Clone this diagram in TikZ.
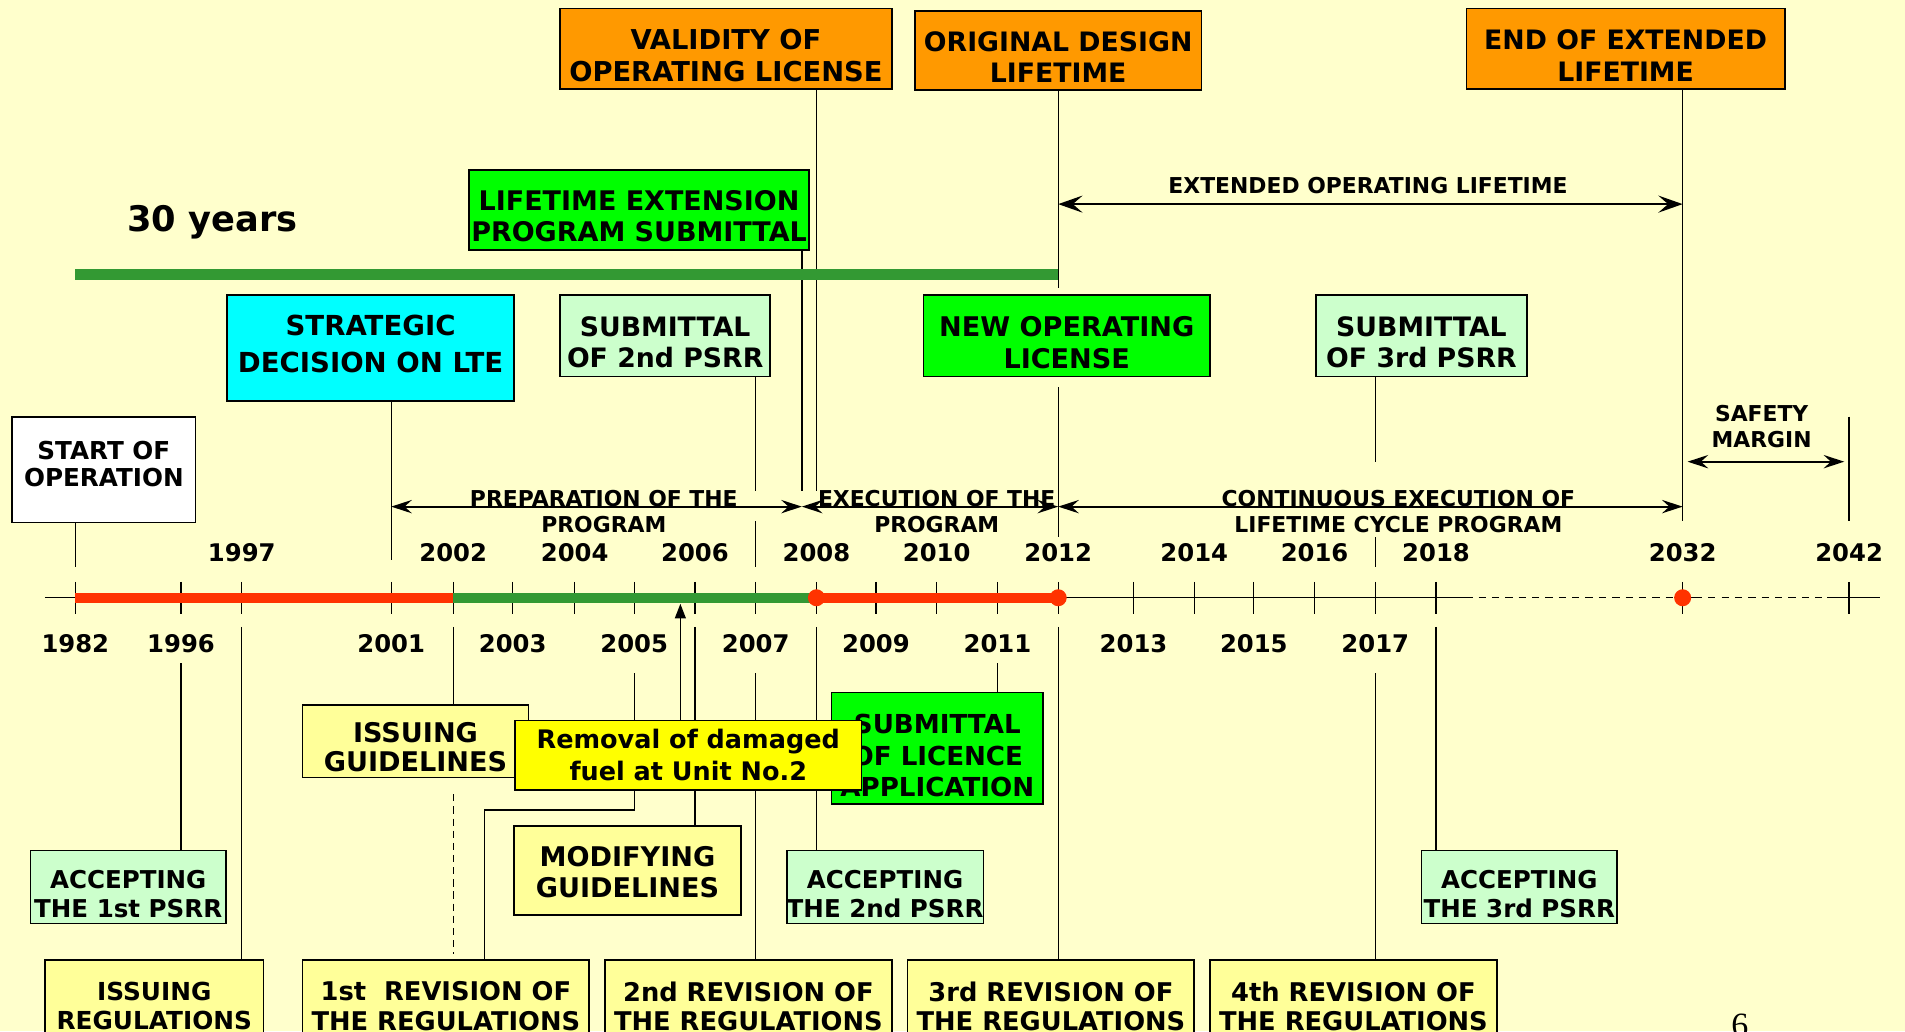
\documentclass[tikz,border=0pt]{standalone}
\usepackage{fontspec}
\usetikzlibrary{arrows.meta, backgrounds}
\newfontfamily\vfont{DejaVu Sans}
\newfontfamily\pgfont{Liberation Serif}
\newcommand{\tlfont}[2]{\vfont\fontsize{#1}{#2}\selectfont\bfseries}

\definecolor{bgyellow}{HTML}{FFFFCC}
\definecolor{boxorange}{HTML}{FF9900}
\definecolor{boxgreen}{HTML}{00FF00}
\definecolor{boxcyan}{HTML}{00FFFF}
\definecolor{palegreen}{HTML}{CCFFCC}
\definecolor{paleyellow}{HTML}{FFFF99}
\definecolor{boxyellow}{HTML}{FFFF00}
\definecolor{barred}{HTML}{FF3300}
\definecolor{bargreen}{HTML}{339933}

\begin{document}
\begin{tikzpicture}[x=1pt, y=-1pt,
    box/.style={draw=black, line width=1.4pt, align=center, inner sep=0pt, font=\tlfont{22.5}{26}},
    tdown/.style={execute at begin node={\rule{0pt}{#1}}},
    tup/.style={execute at end node={\rule[-#1]{0pt}{0pt}}},
    conn/.style={line width=1.1pt},
    span/.style={line width=1.5pt, <->, >={Stealth[length=17pt,width=11pt,inset=6pt]}},
    lbl/.style={align=center, inner sep=0pt, font=\tlfont{18}{21}},
    yr/.style={inner sep=0pt, font=\tlfont{20}{24}},
    tick/.style={line width=1.1pt},
    dot/.style={circle, fill=barred, inner sep=0pt, minimum size=14pt}]
    \useasboundingbox (0,0) rectangle (1568,849);
    \clip (0,0) rectangle (1568,849);

    % Years on the axis
    \foreach \yr/\xx in {1982/62,1996/149,1997/199,2001/322,2002/373,2003/422,2004/473,2005/522,2006/572,2007/622,2008/672,2009/721,2010/771,2011/821,2012/871,2013/933,2014/983,2015/1032,2016/1082,2017/1132,2018/1182,2032/1385,2042/1522}
        \coordinate (t\yr) at (\xx,492);

    % Rows used by the connectors
    \coordinate (hExt) at (0,168);
    \coordinate (h30) at (0,226);
    \coordinate (hSafeTop) at (0,343);
    \coordinate (hSafe) at (0,380);
    \coordinate (hTop) at (0,404);
    \coordinate (hArr) at (0,417);
    \coordinate (hMid) at (0,429);
    \coordinate (hLab) at (0,442);
    \coordinate (hYr) at (0,461);
    \coordinate (hTick) at (0,467);
    \coordinate (hLo1) at (0,516);
    \coordinate (hLo2) at (0,546);
    \coordinate (hLo3) at (0,554);
    \coordinate (junc) at (660,417);
    \coordinate (fuel) at (560,497);
    \coordinate (axL) at (37,492);
    \coordinate (axR) at (1547,492);

    % Boxes above the axis
    \node[box, fill=boxorange, minimum width=273pt, minimum height=66pt, tdown=54.4pt] (validity) at (597.5,40) {VALIDITY OF\\OPERATING LICENSE};
    \node[box, fill=boxorange, minimum width=236pt, minimum height=65pt, tdown=53pt, font=\tlfont{22}{26}] (origlife) at (871,41.5) {ORIGINAL DESIGN\\LIFETIME};
    \node[box, fill=boxorange, minimum width=262pt, minimum height=66pt, tdown=54pt, font=\tlfont{22}{26}] (endlife) at (1338,40) {END OF EXTENDED\\LIFETIME};
    \node[box, fill=boxgreen, minimum width=280pt, minimum height=66pt, tdown=52.2pt, font=\tlfont{22.2}{26}] (lteprog) at (526,173) {LIFETIME EXTENSION\\PROGRAM SUBMITTAL};
    \node[inner sep=0pt, font=\tlfont{29}{34}] (thirty) at (175,183) {30 years};
    \node[box, fill=boxcyan, minimum width=236pt, minimum height=87pt, font=\tlfont{22.7}{31}, tup=7pt] (strategic) at (305,286.5) {STRATEGIC\\DECISION ON LTE};
    \node[box, fill=palegreen, minimum width=173pt, minimum height=67pt, tdown=53pt, font=\tlfont{22}{26}] (sub2) at (547.5,276.5) {SUBMITTAL\\OF 2nd PSRR};
    \node[box, fill=boxgreen, minimum width=236pt, minimum height=67pt, tdown=53.3pt, font=\tlfont{22.3}{26}] (newlic) at (878,276.5) {NEW OPERATING\\LICENSE};
    \node[box, fill=palegreen, minimum width=174pt, minimum height=67pt, tdown=53pt, font=\tlfont{22}{26}] (sub3) at (1170,276.5) {SUBMITTAL\\OF 3rd PSRR};
    \node[box, fill=white, minimum width=151pt, minimum height=87pt, font=\tlfont{20.3}{22.5}, tup=9pt] (start) at (85.5,386.5) {START OF\\OPERATION};

    % Boxes below the axis
    \node[box, fill=paleyellow, minimum width=186pt, minimum height=60pt, font=\tlfont{22.3}{24}, tdown=50.3pt] (issguide) at (342,610) {ISSUING\\GUIDELINES};
    \node[box, fill=boxgreen, minimum width=174pt, minimum height=92pt, font=\tlfont{21.5}{26}, tdown=79.7pt] (licapp) at (771.5,616) {SUBMITTAL\\OF LICENCE\\APPLICATION};
    \node[box, fill=boxyellow, minimum width=285pt, minimum height=57pt, font=\tlfont{21}{26}] (removal) at (566.5,621.5) {Removal of damaged\\fuel at Unit No.2};
    \node[box, fill=paleyellow, minimum width=187pt, minimum height=73pt, font=\tlfont{22.3}{26}, tdown=45.3pt] (modguide) at (516.5,716.5) {MODIFYING\\GUIDELINES};
    \node[box, fill=palegreen, minimum width=161pt, minimum height=60pt, font=\tlfont{20.2}{24}, tdown=50.7pt] (acc1) at (105.5,730) {ACCEPTING\\THE 1st PSRR};
    \node[box, fill=palegreen, minimum width=161pt, minimum height=60pt, font=\tlfont{20.2}{24}, tdown=50.7pt] (acc2) at (728.5,730) {ACCEPTING\\THE 2nd PSRR};
    \node[box, fill=palegreen, minimum width=161pt, minimum height=60pt, font=\tlfont{20.2}{24}, tdown=50.7pt] (acc3) at (1250.5,730) {ACCEPTING\\THE 3rd PSRR};
    \node[box, fill=paleyellow, minimum width=180pt, minimum height=80pt, font=\tlfont{20.4}{24}, tup=4pt] (issreg) at (127,830) {ISSUING\\REGULATIONS};
    \node[box, fill=paleyellow, minimum width=236pt, minimum height=80pt, font=\tlfont{21.2}{24}, tup=4pt] (rev1) at (367,830) {1st~~REVISION OF\\THE REGULATIONS};
    \node[box, fill=paleyellow, minimum width=236pt, minimum height=80pt, font=\tlfont{21.2}{24}, tup=4pt] (rev2) at (616,830) {2nd REVISION OF\\THE REGULATIONS};
    \node[box, fill=paleyellow, minimum width=236pt, minimum height=80pt, font=\tlfont{21.2}{24}, tup=4pt] (rev3) at (865,830) {3rd REVISION OF\\THE REGULATIONS};
    \node[box, fill=paleyellow, minimum width=236pt, minimum height=80pt, font=\tlfont{21.2}{24}, tup=4pt] (rev4) at (1114,830) {4th REVISION OF\\THE REGULATIONS};
    \node[anchor=base, inner sep=0pt, font=\pgfont\fontsize{28}{30}\selectfont] (pgno) at (1432,853) {6};

    \begin{scope}[on background layer]
        \fill[bgyellow] (0,0) rectangle (1568,849);

        % Connectors above the axis
        \draw[conn] (validity.south -| t2008) -- (t2008 |- hTop);
        \draw[conn] (lteprog.south -| junc) -- (junc |- hTop);
        \draw[conn] (origlife.south) -- ++(0,162);
        \draw[conn] (endlife.south -| t2032) -- (t2032 |- hMid);
        \draw[conn] (t2042 |- hSafeTop) -- (t2042 |- hMid);
        \draw[conn, shorten <=8pt] (newlic.south -| t2012) -- (t2012 |- hLab);
        \draw[conn] (strategic.south -| t2001) -- (t2001 |- hYr);
        \draw[conn] (sub2.south -| t2007) -- (t2007 |- hTop);
        \draw[conn] (t2007 |- hMid) -- (t2007 |- hTick);
        \draw[conn] (sub3.south -| t2017) -- (t2017 |- hSafe);
        \draw[conn] (t2017 |- hLab) -- (t2017 |- hTick);
        \draw[conn] (start.south -| t1982) -- (t1982 |- hTick);

        % Connectors below the axis
        \draw[conn] (t1996 |- hLo2) -- (acc1.north -| t1996);
        \draw[conn] (t1997 |- hLo1) -- (issreg.north -| t1997);
        \draw[conn] (t2002 |- hLo1) -- (issguide.north -| t2002);
        \draw[conn, dash pattern=on 6pt off 4pt, shorten <=13pt, shorten >=4pt] (issguide.south -| t2002) -- (rev1.north -| t2002);
        \draw[conn] (t2005 |- hLo3) -- (removal.north -| t2005);
        \draw[conn] (removal.south -| t2005) -- ++(0,16) -| ([xshift=32pt]rev1.north);
        \draw[conn] (t2006 |- hLo1) -- (modguide.north -| t2006);
        \draw[conn] (t2007 |- hLo3) -- (rev2.north -| t2007);
        \draw[conn] (t2008 |- hLo1) -- (acc2.north -| t2008);
        \draw[conn] (t2011 |- hLo2) -- (licapp.north -| t2011);
        \draw[conn] (t2012 |- hLo1) -- (rev3.north -| t2012);
        \draw[conn] (t2017 |- hLo3) -- (rev4.north -| t2017);
        \draw[conn] (t2018 |- hLo1) -- (acc3.north -| t2018);
    \end{scope}

    % 30 years
    \draw[line width=9pt, bargreen] (t1982 |- h30) -- (t2012 |- h30);

    % Axis
    \draw[line width=1.1pt] (axL) -- (1206,492);
    \draw[line width=1.1pt, dash pattern=on 6pt off 5pt] (1206,492) -- (1378,492);
    \draw[line width=1.1pt] (1378,492) -- (1395,492);
    \draw[line width=1.1pt, dash pattern=on 6pt off 5pt] (1395,492) -- (1504,492);
    \draw[line width=1.1pt] (1504,492) -- (axR);
    \foreach \yr in {1982,1996,1997,2001,2002,2003,2004,2005,2006,2007,2008,2009,2010,2011,2012,2013,2014,2015,2016,2017,2018,2032,2042}
        \draw[tick] ([yshift=13pt]t\yr) -- ([yshift=-13pt]t\yr);

    % Phases
    \draw[line width=8pt, barred] (t1982) -- (t2002);
    \draw[line width=8pt, bargreen] (t2002) -- (t2008);
    \draw[line width=8pt, barred] (t2008) -- (t2012);
    \node[dot] (m2008) at (t2008) {};
    \node[dot] (m2012) at (t2012) {};
    \node[dot] (m2032) at (t2032) {};
    \draw[conn, -{Triangle[length=12pt,width=9pt]}] (removal.north -| fuel) -- (fuel);

    % Year labels
    \foreach \yr in {1997,2002,2004,2006,2008,2010,2012,2014,2016,2018,2032,2042}
        \node[yr] (u\yr) at ([yshift=37pt]t\yr) {\yr};
    \foreach \yr in {1982,1996,2001,2003,2005,2007,2009,2011,2013,2015,2017}
        \node[yr] (d\yr) at ([yshift=-38pt]t\yr) {\yr};

    % Spans
    \draw[span, line width=2.2pt, >={Stealth[length=20pt,width=14pt,inset=8pt]}] (t2012 |- hExt) -- (t2032 |- hExt);
    \draw[span] (t2001 |- hArr) -- (junc);
    \draw[span] (junc) -- (t2012 |- hArr);
    \draw[span] (t2012 |- hArr) -- (t2032 |- hArr);
    \draw[span, shorten <=4pt, shorten >=4pt] (t2032 |- hSafe) -- (t2042 |- hSafe);
    \node[lbl] (extlbl) at (1126,153) {EXTENDED OPERATING LIFETIME};
    \node[lbl] (preplbl) at (497,421) {PREPARATION OF THE\\PROGRAM};
    \node[lbl] (execlbl) at (771,421) {EXECUTION OF THE\\PROGRAM};
    \node[lbl] (contlbl) at (1151,421) {CONTINUOUS EXECUTION OF\\LIFETIME CYCLE PROGRAM};
    \node[lbl] (safelbl) at (1450,351) {SAFETY\\MARGIN};
\end{tikzpicture}
\end{document}
